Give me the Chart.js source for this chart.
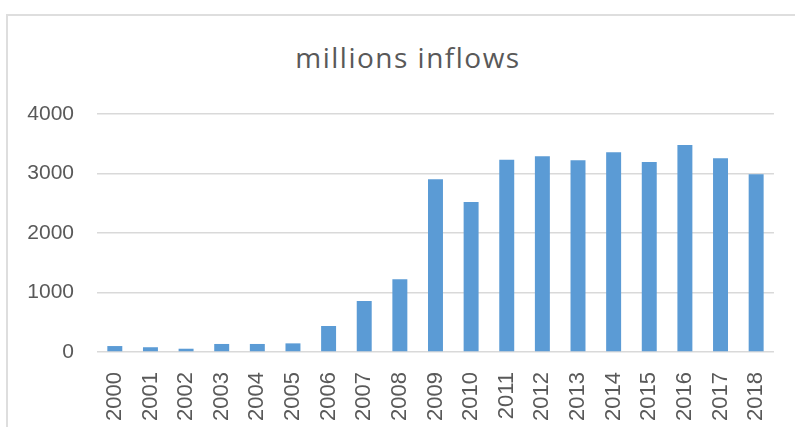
<!DOCTYPE html>
<html>
<head>
<meta charset="utf-8">
<script src="https://cdn.jsdelivr.net/npm/chart.js@4"></script>
<style>
  html, body { margin: 0; padding: 0; background: #fff; }
  #wrap { position: relative; width: 795px; height: 427px; overflow: hidden; }
  #frame { position: absolute; left: 6px; top: 14px; width: 820px; height: 460px; border: 2px solid #dedede; box-sizing: border-box; }
  #titulo { position: absolute; left: 0; top: 38px; width: 816px; text-align: center; font-family: "Open Sans", sans-serif; font-size: 28px; letter-spacing: 1.5px; color: #595959; }
  #grafico { position: absolute; left: 0; top: 0; }
</style>
</head>
<body>
<div id="wrap">
  <div id="frame"></div>
  <div id="titulo">millions inflows</div>
  <canvas id="grafico" width="795" height="427"></canvas>
</div>
<script>
// Dados
const anos = ['2000', '2001', '2002', '2003', '2004', '2005', '2006', '2007', '2008', '2009',
              '2010', '2011', '2012', '2013', '2014', '2015', '2016', '2017', '2018'];
const entradas = [100, 80, 55, 135, 135, 145, 437, 857, 1222, 2902,
                  2521, 3232, 3289, 3221, 3356, 3193, 3479, 3255, 2986];
const ticksY = [0, 1000, 2000, 3000, 4000];

const COR_TEXTO = '#595959';
const COR_GRADE = '#d9d9d9';
const fonteY = { family: '"Liberation Sans", Arial, sans-serif', size: 21 };
const fonteX = { family: '"Liberation Sans", Arial, sans-serif', size: 22 };

const ctx = document.getElementById('grafico').getContext('2d');
const grafico = new Chart(ctx, {
    type: 'bar',
    data: {
        labels: anos,
        datasets: [{
            label: 'millions inflows',
            data: entradas,
            backgroundColor: '#5b9bd5',
            borderWidth: 0,
            categoryPercentage: 1,
            barPercentage: 0.42
        }]
    },
    options: {
        responsive: false,
        animation: false,
        layout: { padding: { top: 114, right: 17, bottom: 0, left: 0 } },
        plugins: {
            legend: { display: false },
            title: { display: false },
            tooltip: { enabled: false }
        },
        scales: {
            x: {
                grid: { display: false },
                border: { display: false },
                ticks: {
                    color: COR_TEXTO,
                    font: fonteX,
                    autoSkip: false,
                    minRotation: 90,
                    maxRotation: 90,
                    padding: 12
                },
                afterFit: (scale) => { scale.height = 75; }
            },
            y: {
                min: 0,
                max: 4000,
                afterBuildTicks: (scale) => { scale.ticks = ticksY.map(v => ({ value: v })); },
                grid: { color: COR_GRADE, lineWidth: 1.5, drawTicks: false },
                border: { display: false },
                ticks: {
                    color: COR_TEXTO,
                    font: fonteY,
                    padding: 23,
                    callback: (v) => String(v)
                },
                afterFit: (scale) => { scale.width = 97; }
            }
        }
    }
});
</script>
</body>
</html>
